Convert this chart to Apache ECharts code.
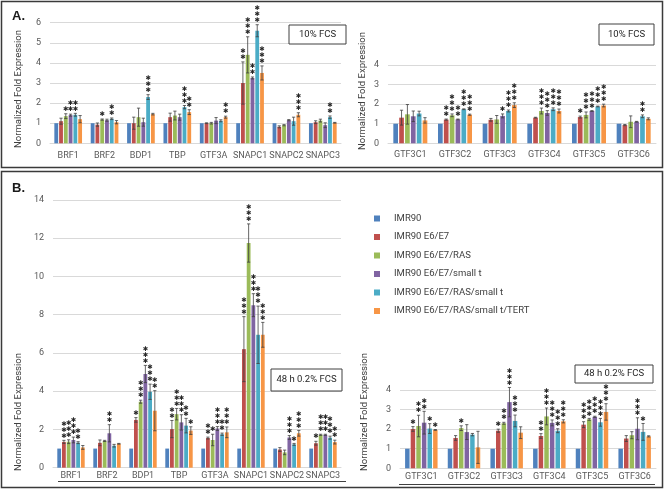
<!DOCTYPE html>
<html>
<head>
<meta charset="utf-8">
<script src="https://cdn.jsdelivr.net/npm/echarts@6/dist/echarts.min.js"></script>
<style>
html,body{margin:0;padding:0;background:#fff;}
#c{width:665px;height:490px;}
</style>
</head>
<body>
<div id="c"></div>
<script>
// ---------- data ----------
const seriesNames = ['IMR90', 'IMR90 E6/E7', 'IMR90 E6/E7/RAS', 'IMR90 E6/E7/small t', 'IMR90 E6/E7/RAS/small t', 'IMR90 E6/E7/RAS/small t/TERT'];
const colors = ['#4F81BD', '#C0504D', '#9BBB59', '#8064A2', '#4BACC6', '#F79646'];

const catsMain = ['BRF1', 'BRF2', 'BDP1', 'TBP', 'GTF3A', 'SNAPC1', 'SNAPC2', 'SNAPC3'];
const catsC = ['GTF3C1', 'GTF3C2', 'GTF3C3', 'GTF3C4', 'GTF3C5', 'GTF3C6'];

// Panel A, left (10% FCS)
const a1Mean = [
  [1, 1, 1, 1, 1, 1, 1, 1],
  [1.1, 0.93, 1.0, 1.3, 1.0, 3.0, 0.82, 1.05],
  [1.35, 1.18, 1.3, 1.38, 1.0, 4.4, 0.9, 1.13],
  [1.4, 1.15, 1.05, 1.3, 1.13, 3.25, 1.15, 0.9],
  [1.42, 1.22, 2.3, 1.8, 1.12, 5.6, 1.1, 1.3],
  [1.2, 1.05, 1.45, 1.55, 1.3, 3.5, 1.42, 1.02]
];
const a1Err = [
  [0, 0, 0, 0, 0, 0, 0, 0],
  [0.15, 0.08, 0.3, 0.2, 0.02, 1.05, 0.05, 0.07],
  [0.12, 0.03, 0.45, 0.22, 0.04, 0.9, 0.03, 0.07],
  [0.05, 0.05, 0.2, 0.15, 0.15, 0.05, 0.03, 0.12],
  [0.07, 0.04, 0.12, 0.08, 0.05, 0.3, 0.2, 0.06],
  [0.18, 0.08, 0.04, 0.12, 0.05, 0.35, 0.1, 0.02]
];
const a1Stars = [
  [0, 0, 0, 0, 0, 0, 0, 0],
  [0, 0, 0, 0, 0, 2, 0, 0],
  [1, 1, 0, 0, 0, 3, 0, 0],
  [2, 0, 0, 0, 0, 2, 0, 0],
  [2, 2, 3, 3, 0, 3, 0, 2],
  [0, 0, 0, 2, 2, 3, 3, 0]
];

// Panel A, right (10% FCS)
const a2Mean = [
  [1, 1, 1, 1, 1, 1],
  [1.31, 1.21, 1.2, 1.31, 1.34, 0.93],
  [1.48, 1.43, 1.22, 1.65, 1.45, 1.1],
  [1.38, 1.22, 1.4, 1.55, 1.65, 1.1],
  [1.52, 1.74, 1.65, 1.74, 1.88, 1.38],
  [1.17, 1.46, 1.95, 1.65, 1.93, 1.25]
];
const a2Err = [
  [0, 0, 0, 0, 0, 0],
  [0.38, 0.03, 0.07, 0.02, 0.05, 0.03],
  [0.5, 0.07, 0.2, 0.15, 0.15, 0.3],
  [0.27, 0.02, 0.1, 0.12, 0.02, 0.02],
  [0.12, 0.02, 0.05, 0.07, 0.02, 0.07],
  [0.14, 0.03, 0.12, 0.1, 0.07, 0.05]
];
const a2Stars = [
  [0, 0, 0, 0, 0, 0],
  [0, 2, 0, 0, 1, 0],
  [0, 3, 0, 3, 3, 0],
  [0, 2, 1, 3, 3, 0],
  [0, 3, 3, 3, 3, 2],
  [0, 3, 3, 3, 3, 0]
];

// Panel B, left (48 h 0.2% FCS)
const b1Mean = [
  [1, 1, 1, 1, 1, 1, 1, 1],
  [1.35, 1.3, 2.5, 2.02, 1.55, 6.2, 0.95, 1.28],
  [1.36, 1.4, 3.45, 2.8, 1.45, 11.75, 0.8, 1.72],
  [1.45, 1.8, 4.9, 2.37, 2.05, 8.5, 1.58, 1.72],
  [1.31, 1.15, 3.97, 2.2, 1.75, 6.95, 1.22, 1.57],
  [1.06, 1.25, 2.98, 1.94, 1.85, 6.95, 1.8, 1.34]
];
const b1Err = [
  [0, 0, 0, 0, 0, 0, 0, 0],
  [0.08, 0.15, 0.12, 0.45, 0.05, 1.7, 0.1, 0.1],
  [0.1, 0.03, 0.08, 0.3, 0.3, 1.0, 0.12, 0.03],
  [0.15, 0.45, 0.45, 0.4, 0.1, 0.6, 0.1, 0.03],
  [0.05, 0.07, 0.4, 0.38, 0.06, 1.5, 0.05, 0.08],
  [0.1, 0.02, 1.05, 0.2, 0.28, 0.65, 0.15, 0.1]
];
const b1Stars = [
  [0, 0, 0, 0, 0, 0, 0, 0],
  [3, 0, 1, 2, 2, 3, 0, 1],
  [3, 0, 3, 3, 1, 3, 0, 3],
  [3, 2, 3, 3, 3, 3, 3, 3],
  [2, 0, 3, 2, 2, 3, 1, 3],
  [0, 0, 2, 1, 3, 3, 3, 2]
];

// Panel B, right (48 h 0.2% FCS)
const b2Mean = [
  [1, 1, 1, 1, 1, 1],
  [2.01, 1.55, 1.92, 1.65, 2.23, 1.52],
  [2.16, 2.05, 2.3, 2.65, 2.5, 1.69],
  [2.33, 1.85, 3.38, 2.32, 2.63, 2.02],
  [2.03, 1.72, 2.42, 1.92, 2.35, 1.86],
  [1.96, 1.07, 1.82, 2.4, 2.88, 1.63]
];
const b2Err = [
  [0, 0, 0, 0, 0, 0],
  [0.12, 0.12, 0.08, 0.12, 0.15, 0.15],
  [0.55, 0.12, 0.05, 0.43, 0.05, 0.18],
  [0.58, 0.38, 0.75, 0.15, 0.03, 0.56],
  [0.25, 0.06, 0.3, 0.1, 0.2, 0.43],
  [0.02, 0.82, 0.3, 0.08, 0.42, 0.03]
];
const b2Stars = [
  [0, 0, 0, 0, 0, 0],
  [1, 0, 1, 2, 3, 0],
  [2, 1, 2, 3, 3, 0],
  [2, 0, 3, 3, 3, 3],
  [1, 0, 3, 3, 3, 1],
  [1, 0, 0, 3, 3, 0]
];

const yTitle = 'Normalized Fold Expression';

// ---------- layout helpers ----------
const BAR_W = 0.105;   // fraction of category band
const BAR_GAP = 0.25;  // fraction of bar width
const FONT = "Roboto, sans-serif";
const TXT = '#595959';

function barSeries(gi, means) {
  return means.map((row, s) => ({
    type: 'bar', name: seriesNames[s], xAxisIndex: gi, yAxisIndex: gi,
    data: row, barWidth: (BAR_W * 100) + '%', barGap: (BAR_GAP * 100) + '%',
    itemStyle: { color: colors[s] }, silent: true, animation: false
  }));
}

function overlaySeries(gi, means, errs, stars) {
  const data = [];
  means.forEach((row, s) => row.forEach((v, c) => data.push([c, v, errs[s][c], stars[s][c], s])));
  return {
    type: 'custom', xAxisIndex: gi, yAxisIndex: gi, z: 5, silent: true, animation: false,
    encode: { x: 0, y: 1 }, clip: false,
    renderItem: function (params, api) {
      const c = api.value(0), v = api.value(1), e = api.value(2), n = api.value(3), s = api.value(4);
      const band = api.size([1, 0])[0];
      const bw = band * BAR_W;
      const step = bw * (1 + BAR_GAP);
      const total = 6 * bw + 5 * bw * BAR_GAP;
      const base = api.coord([c, v]);
      const x = base[0] - total / 2 + s * step + bw / 2;
      const children = [];
      let topY = base[1];
      if (e > 0) {
        const yHi = api.coord([c, v + e])[1];
        const yLo = api.coord([c, v - e])[1];
        const ls = { stroke: '#404040', lineWidth: 0.8 };
        children.push({ type: 'line', shape: { x1: x, y1: yHi, x2: x, y2: yLo }, style: ls });
        children.push({ type: 'line', shape: { x1: x - 1.6, y1: yHi, x2: x + 1.6, y2: yHi }, style: ls });
        children.push({ type: 'line', shape: { x1: x - 1.6, y1: yLo, x2: x + 1.6, y2: yLo }, style: ls });
        topY = yHi;
      }
      for (let i = 0; i < n; i++) {
        children.push({
          type: 'text',
          style: {
            text: '\u2731', x: x, y: topY - 4.5 - i * 6,
            align: 'center', verticalAlign: 'middle',
            textAlign: 'center', textVerticalAlign: 'middle',
            fontSize: 6.5, fontFamily: 'DejaVu Sans', fill: '#262626'
          }
        });
      }
      return { type: 'group', children: children };
    },
    data: data
  };
}

function xAxis(gi, cats, margin) {
  return {
    type: 'category', gridIndex: gi, data: cats,
    axisLine: { lineStyle: { color: '#D9D9D9' } }, axisTick: { show: false },
    axisLabel: { color: TXT, fontSize: 9, fontFamily: FONT, margin: margin, interval: 0 }
  };
}
function yAxis(gi, max, interval) {
  return {
    type: 'value', gridIndex: gi, min: 0, max: max, interval: interval,
    axisLine: { show: false }, axisTick: { show: false },
    splitLine: { lineStyle: { color: '#D9D9D9', width: 1 } },
    axisLabel: { color: TXT, fontSize: 9, fontFamily: FONT, margin: 9 }
  };
}

function vTitle(x, y) {
  return {
    type: 'text', x: x, y: y, rotation: Math.PI / 2,
    style: { text: yTitle, align: 'center', verticalAlign: 'middle', fontSize: 9.5, fontFamily: FONT, fill: '#404040' }
  };
}
function boxLabel(x, y, w, h, text) {
  return {
    type: 'group', children: [
      { type: 'rect', shape: { x: x, y: y, width: w, height: h }, style: { fill: '#fff', stroke: '#404040', lineWidth: 1 }, z: 20 },
      { type: 'text', x: x + w / 2, y: y + h / 2, z: 21, style: { text: text, align: 'center', verticalAlign: 'middle', fontSize: 9.5, fontFamily: FONT, fill: '#262626' } }
    ]
  };
}

const chart = echarts.init(document.getElementById('c'), null, { renderer: 'canvas' });
chart.setOption({
  animation: false,
  backgroundColor: '#fff',
  grid: [
    { left: 50, right: 324, top: 22.7, bottom: 346.7 },
    { left: 388, right: 9, top: 65, bottom: 346.7 },
    { left: 53, right: 324, top: 200, bottom: 22.3 },
    { left: 400, right: 9, top: 390, bottom: 21.7 }
  ],
  xAxis: [xAxis(0, catsMain, 8), xAxis(1, catsC, 7), xAxis(2, catsMain, 4), xAxis(3, catsC, 4)],
  yAxis: [yAxis(0, 6, 1), yAxis(1, 4, 1), yAxis(2, 14, 2), yAxis(3, 4, 1)],
  legend: {
    data: seriesNames, orient: 'vertical', left: 369, top: 208,
    itemWidth: 6, itemHeight: 6, itemGap: 7.5, icon: 'rect',
    selectedMode: false,
    textStyle: { color: '#404040', fontSize: 9.5, fontFamily: FONT, padding: [0, 0, 0, 9], lineHeight: 11 }
  },
  series: [].concat(
    barSeries(0, a1Mean), [overlaySeries(0, a1Mean, a1Err, a1Stars)],
    barSeries(1, a2Mean), [overlaySeries(1, a2Mean, a2Err, a2Stars)],
    barSeries(2, b1Mean), [overlaySeries(2, b1Mean, b1Err, b1Stars)],
    barSeries(3, b2Mean), [overlaySeries(3, b2Mean, b2Err, b2Stars)]
  ),
  graphic: [
    { type: 'rect', shape: { x: 1.5, y: 1.5, width: 661, height: 166 }, style: { fill: 'none', stroke: '#3a3a3a', lineWidth: 1.5 } },
    { type: 'rect', shape: { x: 1.5, y: 171.5, width: 661, height: 316 }, style: { fill: 'none', stroke: '#3a3a3a', lineWidth: 1.5 } },
    { type: 'text', x: 12, y: 16, style: { text: 'A.', verticalAlign: 'middle', fontSize: 13, fontWeight: 'bold', fontFamily: 'Liberation Sans, Arial, sans-serif', fill: '#1a1a1a' } },
    { type: 'text', x: 12, y: 188, style: { text: 'B.', verticalAlign: 'middle', fontSize: 13, fontWeight: 'bold', fontFamily: 'Liberation Sans, Arial, sans-serif', fill: '#1a1a1a' } },
    vTitle(19, 89), vTitle(363, 91), vTitle(19, 412), vTitle(365, 412),
    boxLabel(289, 25, 57, 19, '10% FCS'),
    boxLabel(599, 24, 55, 21, '10% FCS'),
    boxLabel(271, 369, 71, 22, '48 h 0.2% FCS'),
    boxLabel(575, 365, 78, 18, '48 h 0.2% FCS'),
    { type: 'line', shape: { x1: 58, y1: 481.5, x2: 346, y2: 481.5 }, style: { stroke: '#404040', lineWidth: 1 } },
    { type: 'line', shape: { x1: 399, y1: 484.5, x2: 655, y2: 484.5 }, style: { stroke: '#404040', lineWidth: 1 } }
  ]
});
</script>
</body>
</html>
